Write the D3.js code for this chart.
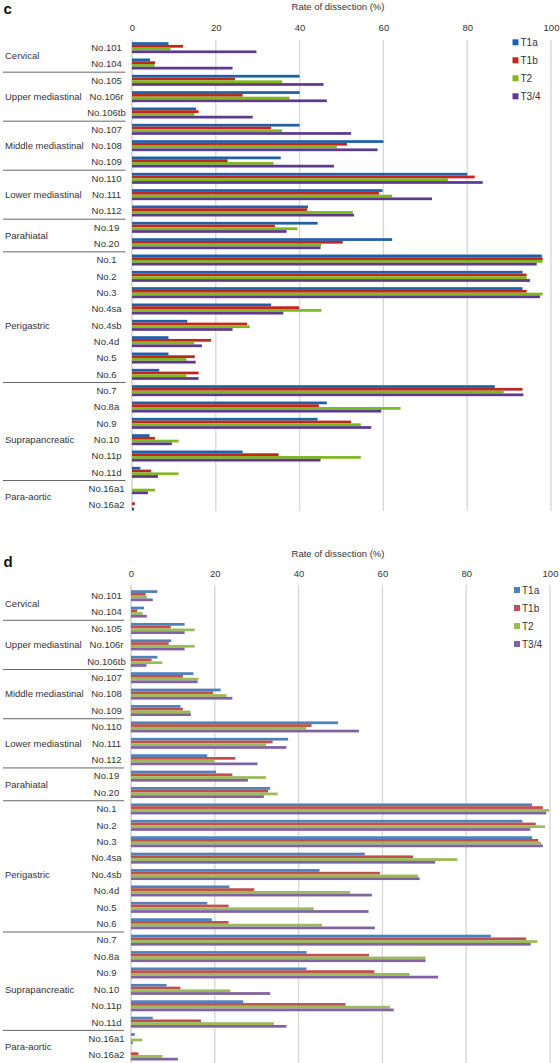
<!DOCTYPE html>
<html>
<head>
<meta charset="utf-8">
<script src="https://cdn.jsdelivr.net/npm/d3@7"></script>
<style>
  html, body { margin: 0; padding: 0; background: #fff; }
  svg { display: block; font-family: "Liberation Sans", Arial, sans-serif; }
</style>
</head>
<body>
<svg id="chart" width="560" height="1063"></svg>
<script>
// ---------- data ----------
const categories = ["No.101","No.104","No.105","No.106r","No.106tb","No.107","No.108","No.109",
  "No.110","No.111","No.112","No.19","No.20","No.1","No.2","No.3","No.4sa","No.4sb","No.4d",
  "No.5","No.6","No.7","No.8a","No.9","No.10","No.11p","No.11d","No.16a1","No.16a2"];
const groupNames = ["Cervical","Upper mediastinal","Middle mediastinal","Lower mediastinal",
  "Parahiatal","Perigastric","Suprapancreatic","Para-aortic"];
const groupSizes = [2,3,3,3,2,8,6,2];
const seriesNames = ["T1a","T1b","T2","T3/4"];
const tickValues = [0,20,40,60,80,100];
const axisTitle = "Rate of dissection (%)";

// panel c
const cT1a = [8.7,4.3,40,40,15.3,40,60,35.5,80,59.8,42,44.3,62.1,97.8,93.2,93.2,33.2,13.2,8.7,8.7,6.5,86.6,46.5,44.3,4.2,26.4,2,0,0];
const cT1b = [12.2,5.5,24.6,26.4,15.9,33.2,51.3,22.8,81.8,59,41.8,34.1,50.3,98,94.2,94.2,39.9,27.5,18.9,15,15.9,93.2,44.6,52.3,5.5,35,4.6,0,0.7];
const cT2  = [9.2,5.4,35.8,37.6,14.9,35.8,48.9,33.8,75.4,62.1,52.7,39.5,45.2,98,94.2,98,45.2,28.1,14.9,13,13,88.7,64.1,54.6,11.1,54.6,11.1,5.5,0];
const cT34 = [29.7,24,45.7,46.5,28.8,52.3,58.6,48.2,83.7,71.6,53,36.9,45,96.6,95,97.4,36.1,24,16.7,15.2,15.9,93.4,59.5,57.1,9.5,45,6.2,3.8,0.5];

// panel d
const dT1a = [6.3,3.1,12.8,9.6,6.3,14.9,21.4,11.8,49.4,37.5,18.2,20.3,33.2,95.7,93.4,95.7,55.8,45,23.5,18.2,19.3,85.9,41.9,41.9,8.5,26.8,5.2,0.9,0];
const dT1b = [3.5,1.5,9.5,9,4.9,12.4,19.6,12.4,43.1,33.8,24.9,24.2,32.7,98.3,96.6,97.2,67.3,59.4,29.4,23.3,23.3,94.3,56.8,58.1,11.8,51.2,16.7,0,1.8];
const dT2  = [3.8,2.8,15.2,15.2,7.5,16.1,22.8,14.2,41.8,32.2,19.9,32.2,35,99.8,98.8,97.9,77.9,68.5,52.3,43.6,45.6,97,70.3,66.5,23.7,61.8,34.1,2.7,7.5];
const dT34 = [5.2,3.8,12.8,12.8,3.7,15.9,24.2,14.3,54.4,37.1,30.2,27.9,31.7,99.1,95.3,98.3,72.6,68.9,57.5,56.7,58.2,95.4,70.3,73.3,33.2,62.7,37.1,0.4,11.2];

// ---------- layout ----------
const panels = [
  { letter: "c", series: [cT1a,cT1b,cT2,cT34],
    colors: ["#1f60aa","#c0281e","#7fb91f","#5c3b8e"],
    x0: 132, x1: 551, bandTop: 39.5, bandBottom: 513.2, gridTop: 40, gridBottom: 511,
    titleY: 6, tickY: 27, letterY: 14, legendY: 42.3, legendX: 512.5, sepX1: 125.5 },
  { letter: "d", series: [dT1a,dT1b,dT2,dT34],
    colors: ["#4f81bd","#c0504d","#9bbb59","#8064a2"],
    x0: 131, x1: 550, bandTop: 587.5, bandBottom: 1063.2, gridTop: 585, gridBottom: 1063,
    titleY: 553, tickY: 573, letterY: 567, legendY: 590, legendX: 514, sepX1: 124 }
];

const svg = d3.select("#chart");
const FS = 9.5;

panels.forEach(p => {
  const g = svg.append("g");
  const x = d3.scaleLinear().domain([0,100]).range([p.x0, p.x1]);
  const y = d3.scaleBand().domain(categories).range([p.bandTop, p.bandBottom]).padding(0);
  const step = y.step();
  const inner = d3.scaleBand().domain(seriesNames).range([-5.5, 5.5]).padding(0);

  // gridlines
  g.append("g").selectAll("line").data(tickValues).join("line")
    .attr("x1", d => x(d)).attr("x2", d => x(d))
    .attr("y1", p.gridTop).attr("y2", p.gridBottom)
    .attr("stroke", d => d === 0 ? "#c8c8c8" : "#d6d6d6")
    .attr("stroke-width", 1.3);

  // top axis ticks labels via d3 axis
  const axis = d3.axisTop(x).tickValues(tickValues).tickSize(0).tickPadding(0);
  const ax = g.append("g").attr("transform", `translate(0,${p.tickY + 4})`).call(axis);
  ax.select(".domain").remove();
  ax.selectAll("text").attr("font-size", FS).attr("fill", "#333")
    .attr("font-family", "Liberation Sans, Arial, sans-serif");

  // axis title
  g.append("text").attr("x", 338).attr("y", p.titleY + 3.5)
    .attr("text-anchor", "middle").attr("font-size", FS).attr("fill", "#333").text(axisTitle);

  // panel letter
  g.append("text").attr("x", 3.5).attr("y", p.letterY)
    .attr("font-size", 15).attr("font-weight", "bold").attr("fill", "#111").text(p.letter);

  // bars
  seriesNames.forEach((s, si) => {
    g.append("g").selectAll("rect").data(p.series[si]).join("rect")
      .attr("x", x(0))
      .attr("y", (d, i) => y(categories[i]) + step / 2 + inner(s))
      .attr("width", d => Math.max(0, x(d) - x(0)))
      .attr("height", inner.bandwidth())
      .attr("fill", p.colors[si]);
  });

  // category labels
  g.append("g").selectAll("text").data(categories).join("text")
    .attr("x", 106.5).attr("y", d => y(d) + step / 2)
    .attr("dy", "0.35em").attr("text-anchor", "middle")
    .attr("font-size", FS).attr("fill", "#333").text(d => d);

  // group labels and separators
  let start = 0;
  groupNames.forEach((name, gi) => {
    const n = groupSizes[gi];
    const pos = n === 2 ? start + 0.5 : start + Math.floor(n / 2);
    g.append("text").attr("x", 5).attr("y", p.bandTop + (pos + 0.5) * step)
      .attr("dy", "0.35em").attr("font-size", FS).attr("fill", "#333").text(name);
    if (gi > 0) {
      const yy = p.bandTop + start * step;
      g.append("line").attr("x1", 3).attr("x2", p.sepX1).attr("y1", yy).attr("y2", yy)
        .attr("stroke", "#666").attr("stroke-width", 1);
    }
    start += n;
  });

  // legend
  const lg = g.append("g");
  seriesNames.forEach((s, si) => {
    const ly = p.legendY + si * 18;
    lg.append("rect").attr("x", p.legendX).attr("y", ly - 3).attr("width", 6).attr("height", 6)
      .attr("fill", p.colors[si]);
    lg.append("text").attr("x", p.legendX + 8).attr("y", ly).attr("dy", "0.35em")
      .attr("font-size", FS + 0.5).attr("fill", "#333").text(s);
  });
});
</script>
</body>
</html>
